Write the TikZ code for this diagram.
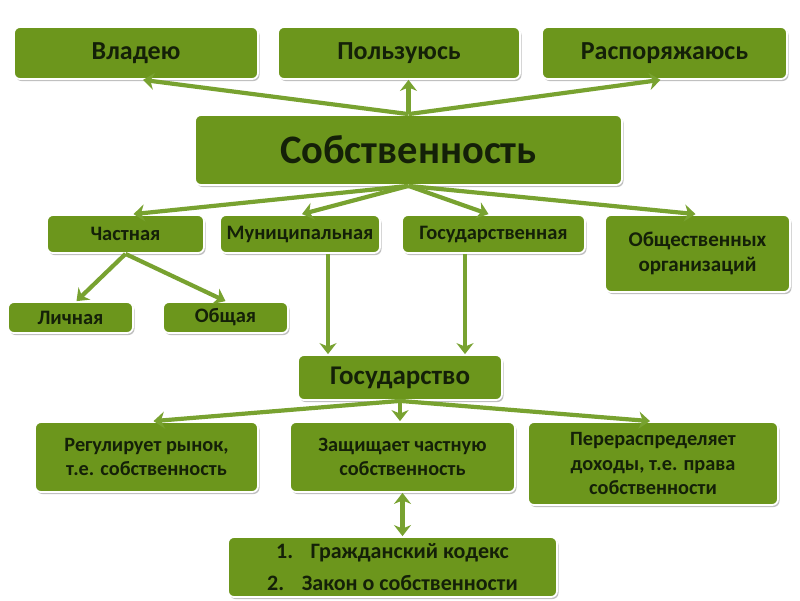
\documentclass[tikz,border=0pt]{standalone}
\usepackage{fontspec}
\setmainfont{Carlito}
\usetikzlibrary{shadows,arrows.meta,calc}
\definecolor{boxgreen}{RGB}{108,150,28}
\definecolor{arrowgreen}{RGB}{120,162,48}
\definecolor{txt}{RGB}{20,32,8}
\tikzset{
  box/.style={rectangle, rounded corners=6pt, fill=boxgreen, draw=white,
    line width=1.8pt, text=txt, font=\bfseries, align=center, inner sep=0pt,
    drop shadow={shadow xshift=1.5pt, shadow yshift=-2pt, opacity=0.35, fill=black!70}},
  conn/.style={draw=arrowgreen, line width=4.2pt,
    -{Stealth[length=11pt,width=17pt,inset=3.5pt]}},
  biconn/.style={draw=arrowgreen, line width=4.2pt,
    {Stealth[length=11pt,width=17pt,inset=3.5pt]}-{Stealth[length=11pt,width=17pt,inset=3.5pt]}},
  fA/.style={font=\bfseries\fontsize{40.5}{44}\selectfont},
  fB/.style={font=\bfseries\fontsize{26}{30}\selectfont},
  fC/.style={font=\bfseries\fontsize{20.5}{24}\selectfont},
  fD/.style={font=\bfseries\fontsize{27}{31}\selectfont},
  fE/.style={font=\bfseries\fontsize{20.3}{24.5}\selectfont},
  fG/.style={font=\bfseries\fontsize{21}{25}\selectfont},
  fF/.style={font=\bfseries\fontsize{22}{32}\selectfont},
}
\begin{document}
\begin{tikzpicture}[x=1pt,y=-1pt]
\useasboundingbox[fill=white] (0,0) rectangle (800,600);
% top row
\node[box,fB,minimum width=244pt,minimum height=52pt] (vlad) at (136,53) {Владею};
\node[box,fB,minimum width=242pt,minimum height=52pt] (polz) at (399,53) {Пользуюсь};
\node[box,fB,minimum width=245pt,minimum height=52pt] (rasp) at (664.5,53) {Распоряжаюсь};
% main
\node[box,fA,minimum width=427pt,minimum height=70pt] (sobs) at (408.5,150) {Собственность};
% second row
\node[box,fC,minimum width=157pt,minimum height=38pt] (chast) at (125.5,234) {Частная};
\node[box,fC,minimum width=160pt,minimum height=38pt] (mun) at (300,234) {Муниципальная};
\node[box,fC,minimum width=183pt,minimum height=38pt] (gos) at (493.5,234) {Государственная};
\node[box,fG,minimum width=185pt,minimum height=77pt] (obsh) at (697.5,253.5) {Общественных\\организаций};
% third row
\node[box,fC,minimum width=125pt,minimum height=31pt] (lich) at (70.5,317.5) {Личная};
\node[box,fC,minimum width=125pt,minimum height=31pt] (obsch) at (225.5,317.5) {Общая};
% state
\node[box,fD,minimum width=204pt,minimum height=45pt] (gsd) at (400,377.5) {Государство};
\node[box,fE,minimum width=223pt,minimum height=70pt] (reg) at (146.5,457) {Регулирует рынок,\\т.е. собственность};
\node[box,fE,minimum width=225pt,minimum height=70pt] (zasch) at (402.5,457) {Защищает частную\\собственность};
\node[box,fE,minimum width=250pt,minimum height=83pt] (perer) at (653,463.5) {Перераспределяет\\доходы, т.е. права\\собственности};
\node[box,fF,minimum width=329pt,minimum height=60pt] (kod) at (392.5,567) {1.\hspace{0.8em}Гражданский кодекс\\2.\hspace{0.8em}Закон о собственности};
% connectors
\draw[conn] (sobs.north) -- ($(vlad.south)+(7,0)$);
\draw[conn] (sobs.north) -- (sobs.north |- polz.south);
\draw[conn] (sobs.north) -- ($(rasp.south)+(-4,0)$);
\draw[conn] (sobs.south) -- ($(chast.north)+(8,0)$);
\draw[conn] (sobs.south) -- ($(mun.north)+(2,0)$);
\draw[conn] (sobs.south) -- ($(gos.north)+(-5,0)$);
\draw[conn] (sobs.south) -- ($(obsh.north)+(-2,0)$);
\draw[conn] (chast.south) -- ($(lich.north)+(6,0)$);
\draw[conn] (chast.south) -- (obsch.north);
\draw[conn] ($(mun.south)+(28,0)$) -- ($(mun.south |- gsd.north)+(28,0)$);
\draw[conn] ($(gos.south)+(-28.5,0)$) -- ($(gos.south |- gsd.north)+(-28.5,0)$);
\draw[conn] (gsd.south) -- ($(reg.north)+(7,0)$);
\draw[conn] (gsd.south) -- (gsd.south |- zasch.north);
\draw[conn] (gsd.south) -- ($(perer.north)+(-3,0)$);
\draw[biconn] (zasch.south) -- (zasch.south |- kod.north);
\end{tikzpicture}
\end{document}
